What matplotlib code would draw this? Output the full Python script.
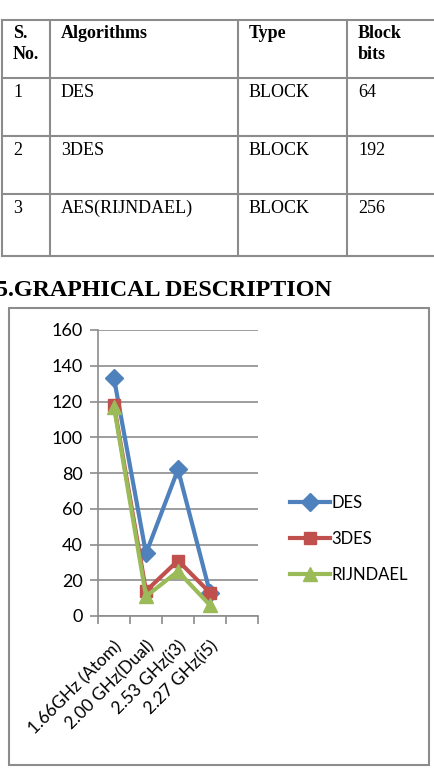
import matplotlib.pyplot as plt
from matplotlib.patches import Rectangle
from matplotlib.lines import Line2D

# table data
headers = ["S.\nNo.", "Algorithms", "Type", "Block\nbits"]
sno = ["1", "2", "3"]
algos = ["DES", "3DES", "AES(RIJNDAEL)"]
types = ["BLOCK", "BLOCK", "BLOCK"]
bits = ["64", "192", "256"]

# chart data
cats = ["1.66GHz (Atom)", "2.00 GHz(Dual)", "2.53 GHz(i3)", "2.27 GHz(i5)"]
des = [133, 35, 82, 13]
tdes = [118, 14, 31, 13]
rijndael = [117, 11, 25, 6]

W, H = 435, 773
fig = plt.figure(figsize=(W / 100, H / 100), dpi=100)

def fx(x):
    return x / W

def fy(y):
    return 1 - y / H

# ---- table ----
col_x = [2, 50, 238, 347, 440]
row_y = [20, 78, 136, 194, 256]
gray = "#8c8c8c"
for x in col_x[:-1]:
    fig.add_artist(Line2D([fx(x), fx(x)], [fy(row_y[0]), fy(row_y[-1])], color=gray, lw=1.5))
for y in row_y:
    fig.add_artist(Line2D([fx(col_x[0]), 1], [fy(y), fy(y)], color=gray, lw=1.5))

serif = "Liberation Serif"
for i, h in enumerate(headers):
    fig.text(fx(col_x[i] + 11), fy(row_y[0] + 5), h, family=serif, weight="bold",
             fontsize=13, va="top", ha="left", linespacing=1.3)
rows = list(zip(sno, algos, types, bits))
for r, row in enumerate(rows):
    for i, val in enumerate(row):
        fig.text(fx(col_x[i] + 11), fy(row_y[r + 1] + 6), val, family=serif,
                 fontsize=13, va="top", ha="left")

fig.text(fx(-4), fy(290), "5.GRAPHICAL DESCRIPTION", family=serif, weight="bold",
         fontsize=17.3, va="center", ha="left")

# ---- chart frame ----
fig.add_artist(Rectangle((fx(9), fy(765)), fx(429 - 9), fy(308) - fy(765),
                         fill=False, edgecolor=gray, lw=1.5))

ax = fig.add_axes([fx(98), fy(616), fx(160), fy(330) - fy(616)])
x = list(range(len(cats)))
ax.plot(x, des, color="#4F81BD", marker="D", ms=9, lw=3, label="DES")
ax.plot(x, tdes, color="#C0504D", marker="s", ms=9, lw=3, label="3DES")
ax.plot(x, rijndael, color="#9BBB59", marker="^", ms=10, lw=3, label="RIJNDAEL")

ax.set_xlim(-0.5, 4.5)
ax.set_ylim(0, 160)
ax.set_yticks(range(0, 161, 20))
ax.yaxis.grid(True, color=gray, lw=1.2)
ax.set_axisbelow(True)
ax.set_xticks(x)
ax.set_xticklabels(cats, rotation=45, ha="right", va="top", rotation_mode="anchor",
                   family="Lato", fontsize=12.5)
ax.tick_params(axis="x", length=0, pad=16)
ax.set_xticks([i - 0.5 for i in range(6)], minor=True)
ax.tick_params(axis="x", which="minor", length=6, color=gray, width=1.2)
ax.tick_params(axis="y", length=6, color=gray, width=1.2, labelsize=13, pad=5)
for lab in ax.get_yticklabels():
    lab.set_family("Lato")
for s in ["top", "right"]:
    ax.spines[s].set_visible(False)
for s in ["left", "bottom"]:
    ax.spines[s].set_color(gray)
    ax.spines[s].set_linewidth(1.2)

leg = ax.legend(loc="center left", bbox_to_anchor=((275 - 98) / 160, 0.27),
                frameon=False, prop={"family": "Lato", "size": 12},
                handlelength=2.4, handletextpad=0.1, labelspacing=1.2)

fig.savefig("out.png", dpi=100)
